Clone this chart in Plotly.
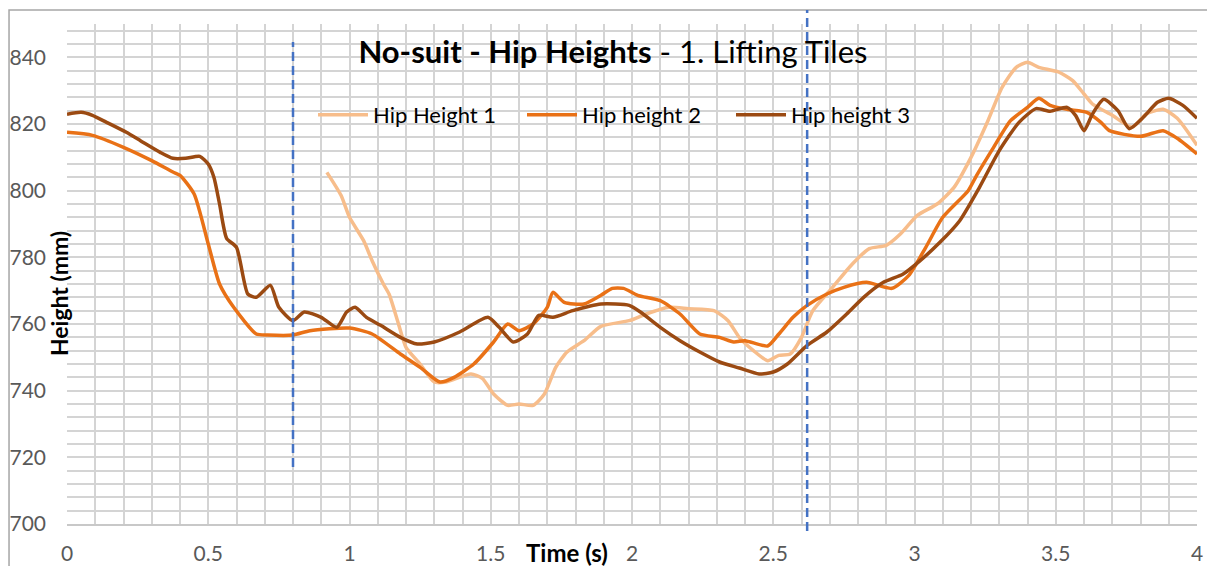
import plotly.graph_objects as go

# Hip height curves (time in s, height in mm)
t1 = [0.92, 0.97, 1.0, 1.05, 1.08, 1.12, 1.14, 1.17, 1.2, 1.25, 1.3, 1.34, 1.43, 1.47,
      1.51, 1.56, 1.6, 1.65, 1.69, 1.73, 1.77, 1.83, 1.89, 1.99, 2.05, 2.13, 2.2,
      2.29, 2.34, 2.38, 2.43, 2.48, 2.52, 2.56, 2.6, 2.64, 2.71, 2.78, 2.84, 2.9,
      2.95, 3.01, 3.08, 3.14, 3.2, 3.26, 3.31, 3.36, 3.4, 3.44, 3.51, 3.56, 3.6,
      3.63, 3.7, 3.77, 3.82, 3.88, 3.93, 4.0]
h1 = [805.5, 798.6, 792, 785, 779, 772, 769, 761, 753, 748, 742.6, 742.6, 745, 743.7,
      739, 735.6, 736, 735.6, 739, 747, 751.6, 755, 759.3, 761, 763, 765, 764.6,
      764, 761, 756, 752, 749, 750.6, 751, 756, 764, 771, 778, 782.6, 783.6,
      787, 792.6, 796, 801, 810, 821, 831, 837, 838.5, 837, 835.6, 833, 829,
      826, 822.6, 819, 823, 824.4, 821.7, 813.6]

t2 = [0.0, 0.09, 0.2, 0.3, 0.375, 0.4, 0.45, 0.5, 0.54, 0.59, 0.67, 0.71, 0.8, 0.86,
      1.0, 1.08, 1.18, 1.25, 1.32, 1.37, 1.44, 1.51, 1.56, 1.6, 1.65, 1.7, 1.72,
      1.76, 1.83, 1.89, 1.93, 1.97, 2.02, 2.1, 2.17, 2.24, 2.31, 2.36, 2.4, 2.48,
      2.52, 2.57, 2.62, 2.69, 2.75, 2.83, 2.92, 2.98, 3.04, 3.1, 3.19, 3.22, 3.28,
      3.34, 3.4, 3.44, 3.48, 3.54, 3.61, 3.66, 3.69, 3.8, 3.88, 3.93, 4.0]
h2 = [817.5, 816.6, 813, 809, 805.6, 804.6, 799, 784, 772, 765, 757, 756.7, 756.7, 758,
      758.8, 757, 751, 747, 742.6, 744, 748, 754.6, 760, 758, 760, 765, 769.5,
      766.5, 766, 768.6, 770.7, 770.7, 768.6, 767, 763, 757, 756, 754.6, 755, 753.4,
      757, 762, 765.6, 769, 771, 772.5, 770.7, 774.6, 783, 792, 800, 804.6, 813,
      821, 825, 827.7, 825.6, 824.4, 823.5, 820.5, 818, 816.3, 818, 815.7, 811]

t3 = [0.0, 0.05, 0.09, 0.14, 0.21, 0.26, 0.33, 0.375, 0.42, 0.47, 0.5, 0.52, 0.54,
      0.565, 0.6, 0.64, 0.67, 0.72, 0.75, 0.8, 0.84, 0.9, 0.955, 0.99, 1.02, 1.06,
      1.11, 1.18, 1.24, 1.3, 1.39, 1.49, 1.53, 1.58, 1.63, 1.67, 1.72, 1.79, 1.89,
      1.99, 2.03, 2.1, 2.17, 2.24, 2.31, 2.38, 2.45, 2.5, 2.55, 2.62, 2.69, 2.76,
      2.82, 2.89, 2.96, 3.02, 3.09, 3.16, 3.23, 3.3, 3.37, 3.43, 3.48, 3.54, 3.57,
      3.6, 3.63, 3.67, 3.72, 3.76, 3.81, 3.86, 3.9, 3.95, 4.0]
h3 = [822.9, 823.5, 822.6, 820.5, 817.5, 815, 811.5, 809.7, 809.7, 810.3, 808, 804,
      796, 785.7, 783, 769, 768, 771.6, 765, 761, 763.6, 762, 759, 763.6, 765, 762,
      759.6, 756, 754, 754.6, 757.6, 762, 759, 754.6, 757, 762.6, 762, 764, 766,
      765.6, 763.6, 759, 755, 751.6, 748.6, 746.8, 745, 745.6, 748, 753.6, 757.6,
      763, 768, 772.5, 775, 779, 784.5, 791, 801, 812, 820.5, 824.6, 823.8, 825,
      822.6, 818, 823, 827.4, 824, 818.6, 822, 826.5, 827.7, 825.6, 821.7]

series_names = ["Hip Height 1", "Hip height 2", "Hip height 3"]
series_colors = ["#F7BD8B", "#E97116", "#9B4A12"]

# phase boundaries (s)
event_times = [0.8, 2.62]

FONT = "Lato"

fig = go.Figure()
for t, h, name, col in zip([t1, t2, t3], [h1, h2, h3], series_names, series_colors):
    fig.add_trace(go.Scatter(x=t, y=h, mode="lines", name=name,
                             line=dict(color=col, width=3.5, shape="spline", smoothing=0.6)))

# dashed phase markers (paper y so they may run past the plot area)
marker_spans = [(0.114, 0.964), (-0.014, 1.028)]
for et, (ya, yb) in zip(event_times, marker_spans):
    fig.add_shape(type="line", xref="x", yref="paper", x0=et, x1=et, y0=ya, y1=yb,
                  line=dict(color="#4472C4", width=2.5, dash="9px,5px"))

# outer chart frame
fig.add_shape(type="rect", xref="paper", yref="paper", x0=-0.0513, x1=1.03, y0=-0.2, y1=1.028,
              line=dict(color="#A6A6A6", width=1.5), layer="below")

grid = "#D4D4D4"
# page body has an 8px margin, so the figure is 8px smaller and margins shifted
fig.update_layout(
    width=1207, height=558,
    margin=dict(l=59, r=18, t=16, b=42),
    paper_bgcolor="white", plot_bgcolor="white",
    font=dict(family=FONT, size=21, color="#595959"),
    title=dict(text="<b>No-suit - Hip Heights</b> - 1. Lifting Tiles",
               x=0.5012, y=0.921, xanchor="center", yanchor="middle",
               font=dict(family=FONT, size=31, color="black")),
    legend=dict(orientation="h", x=0.2177, y=0.818, xanchor="left", yanchor="middle",
                bgcolor="rgba(0,0,0,0)", font=dict(family=FONT, size=22, color="black"),
                itemwidth=50, entrywidth=144, entrywidthmode="pixels"),
    xaxis=dict(range=[0, 4], dtick=0.5, tick0=0, showgrid=True, gridcolor=grid, gridwidth=1.5,
               minor=dict(dtick=0.1, showgrid=True, gridcolor=grid, gridwidth=1.5),
               showline=True, linecolor="#C8C8C8", linewidth=1.5, automargin=False,
               zeroline=False, ticks="", ticklabelstandoff=10,
               tickfont=dict(family=FONT, size=21, color="#595959")),
    yaxis=dict(range=[700, 850], dtick=20, tick0=700, showgrid=True, gridcolor=grid, gridwidth=1.5,
               minor=dict(dtick=4, showgrid=True, gridcolor=grid, gridwidth=1.5),
               zeroline=False, ticks="", ticklabelstandoff=20, automargin=False,
               tickfont=dict(family=FONT, size=21, color="#595959")),
    annotations=[
        dict(text="<b>Height (mm)</b>", textangle=-90, xref="paper", yref="paper",
             x=-0.007, y=0.46, xanchor="center", yanchor="middle", showarrow=False,
             font=dict(family=FONT, size=23, color="black")),
        dict(text="<b>Time (s)</b>", xref="paper", yref="paper",
             x=0.4425, y=-0.056, xanchor="center", yanchor="middle", showarrow=False,
             font=dict(family=FONT, size=24, color="black")),
    ],
)

fig.write_html("out.html")
